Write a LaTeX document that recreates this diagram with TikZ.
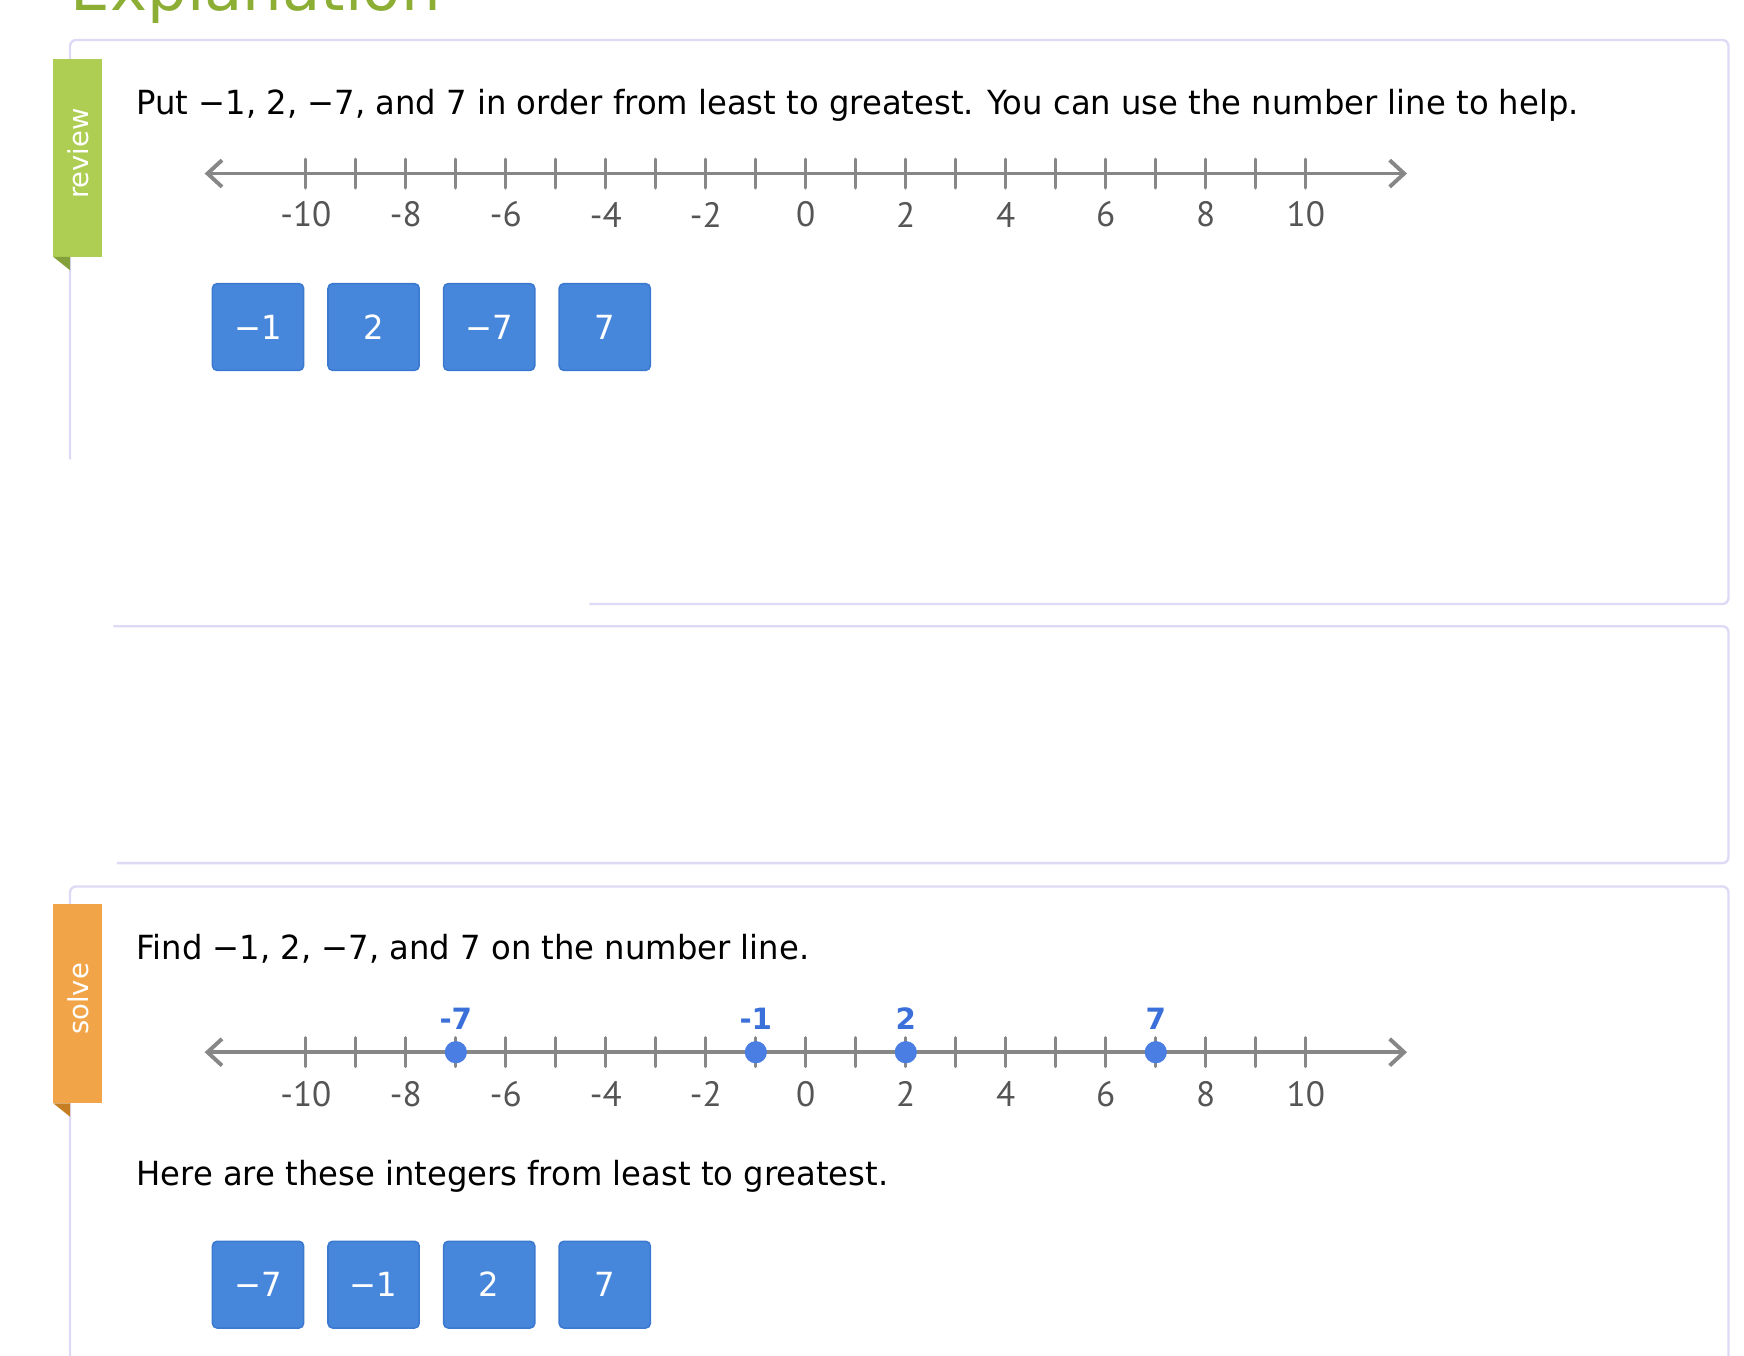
\documentclass[tikz,border=0pt]{standalone}
\usepackage{fontspec}
\setmainfont{DejaVu Sans}
\newfontfamily\qfont{DejaVu Sans}[FakeStretch=0.97]
\newfontfamily\tickfont{PT Sans}
\usetikzlibrary{arrows.meta,positioning}
\definecolor{cardline}{HTML}{DCDAF5}
\definecolor{titlegreen}{HTML}{8CAE34}
\definecolor{reviewgreen}{HTML}{AECE53}
\definecolor{reviewfold}{HTML}{84A03A}
\definecolor{solveorange}{HTML}{F2A548}
\definecolor{solvefold}{HTML}{C57F22}
\definecolor{linegray}{HTML}{878787}
\definecolor{labelgray}{HTML}{555555}
\definecolor{tileblue}{HTML}{4787DB}
\definecolor{tileedge}{HTML}{3B78CF}
\definecolor{dotblue}{HTML}{4A7EE3}
\definecolor{dotlabelblue}{HTML}{3B6FD9}
\newcommand{\zx}{724.5}
\newcommand{\dx}{44.95}

\begin{document}
\begin{tikzpicture}[
    x=0.1mm, y=-0.1mm,
    card/.style={draw=cardline, line width=0.6pt, rounded corners=1.5pt},
    tabtext/.style={text=white, rotate=90, inner sep=0pt,
                    font=\fontsize{7pt}{8pt}\selectfont},
    prompt/.style={anchor=base west, inner sep=0pt,
                   font=\qfont\fontsize{8.5pt}{10pt}\selectfont},
    tile/.style={rectangle, rounded corners=1.2pt, draw=tileedge,
                 fill=tileblue, minimum width=8.2mm, minimum height=7.8mm,
                 inner sep=0pt, text=white,
                 font=\qfont\fontsize{8.5pt}{10pt}\selectfont},
    axis/.style={draw=linegray, line width=1pt,
                 {Straight Barb[length=1.3mm,width=2.4mm]}-{Straight Barb[length=1.3mm,width=2.4mm]}},
    tickmark/.style={draw=linegray, line width=0.8pt, line cap=round},
    ticklabel/.style={text=labelgray, inner sep=0pt,
                      font=\tickfont\fontsize{9pt}{10pt}\selectfont},
    dot/.style={circle, fill=dotblue, minimum size=2mm, inner sep=0pt},
    dotlabel/.style={text=dotlabelblue, inner sep=0pt,
                     font=\bfseries\fontsize{7.5pt}{8pt}\selectfont}
  ]
  \useasboundingbox (0,0) rectangle (1568,1219);

  \node[anchor=base west, inner sep=0pt, text=titlegreen,
        font=\fontsize{16pt}{18pt}\selectfont] (title) at (63,9) {Explanation};

  \draw[card] (63,413) -- (63,36) -- (1554,36) -- (1554,543) -- (530,543);
  \draw[card] (102,563) -- (1554,563) -- (1554,776) -- (105,776);
  \draw[card] (63,1219) -- (63,797) -- (1554,797) -- (1554,1219);

  \fill[reviewgreen] (48,53) rectangle (92,231);
  \fill[reviewfold] (48,231) -- (63,231) -- (63,243) -- cycle;
  \node[tabtext] (review) at (70,138) {review};

  \fill[solveorange] (48,813) rectangle (92,992);
  \fill[solvefold] (48,992) -- (63,992) -- (63,1004) -- cycle;
  \node[tabtext] (solve) at (70,898) {solve};

  \node[prompt] (q1) at (122,103)
    {Put −1, 2, −7, and 7 in order from least to greatest. You can use the number line to help.};

  \coordinate (l1) at (184,156);
  \coordinate (r1) at (1265,156);
  \draw[axis] (l1) -- (r1);
  \foreach \n in {-10,...,10}
    \draw[tickmark] ({\zx+\dx*\n},143) -- ++(0,26);
  \foreach \n in {-10,-8,...,10}
    \node[ticklabel] (a\n) at ({\zx+\dx*\n},193) {\n};

  \node[tile] (t1) at (232,294) {−1};
  \node[tile, right=2.05mm of t1] (t2) {2};
  \node[tile, right=2.05mm of t2] (t3) {−7};
  \node[tile, right=2.05mm of t3] (t4) {7};

  \node[prompt] (q2) at (122,863) {Find −1, 2, −7, and 7 on the number line.};

  \coordinate (l2) at (184,946);
  \coordinate (r2) at (1265,946);
  \draw[axis] (l2) -- (r2);
  \foreach \n in {-10,...,10}
    \draw[tickmark] ({\zx+\dx*\n},933) -- ++(0,26);
  \foreach \n in {-10,-8,...,10}
    \node[ticklabel] (b\n) at ({\zx+\dx*\n},984) {\n};

  \foreach \n in {-7,-1,2,7} {
    \node[dot] (p\n) at ({\zx+\dx*\n},946) {};
    \node[dotlabel, above=0.9mm of p\n] (m\n) {\n};
  }

  \node[prompt] (q3) at (122,1066) {Here are these integers from least to greatest.};

  \node[tile] (s1) at (232,1155) {−7};
  \node[tile, right=2.05mm of s1] (s2) {−1};
  \node[tile, right=2.05mm of s2] (s3) {2};
  \node[tile, right=2.05mm of s3] (s4) {7};
\end{tikzpicture}
\end{document}
